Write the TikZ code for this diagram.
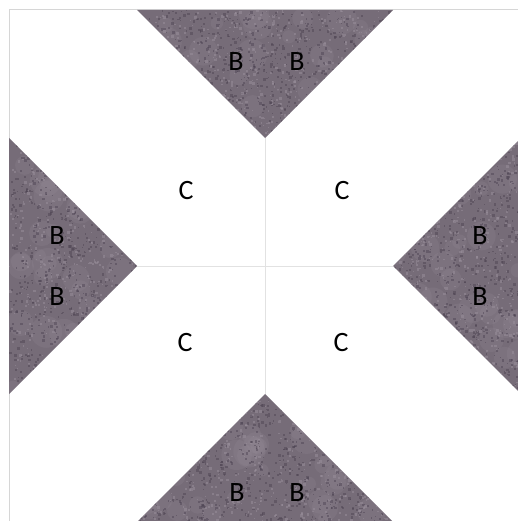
\documentclass[tikz,border=0pt]{standalone}
\usepackage{fontspec}
\setmainfont{Carlito}
\definecolor{fabric}{HTML}{766C78}
\definecolor{fabdark}{HTML}{4A4150}
\definecolor{fablight}{HTML}{9A909C}
\definecolor{seam}{HTML}{E2E2E2}
\definecolor{edge}{HTML}{D6D6D6}
\tikzset{
  lbl/.style={font=\fontsize{28}{30}\selectfont, text=black, inner sep=0pt},
  patch/.style={fill=fabric},
  seamline/.style={draw=seam, line width=0.8pt},
}
\newcommand{\speckle}[4]{% x0 y0 w h
  \foreach \k in {1,...,40}{
    \pgfmathsetmacro{\px}{#1+#3*rnd}
    \pgfmathsetmacro{\py}{#2+#4*rnd}
    \pgfmathsetmacro{\rr}{6+10*rnd}
    \fill[fablight, opacity=0.18] (\px,\py) circle (\rr);
  }%
  \foreach \k in {1,...,1400}{
    \pgfmathsetmacro{\px}{#1+#3*rnd}
    \pgfmathsetmacro{\py}{#2+#4*rnd}
    \pgfmathsetmacro{\sz}{1+1.8*rnd}
    \pgfmathsetmacro{\cc}{rnd}
    \ifdim\cc pt<0.6pt
      \fill[fabdark, opacity=0.45] (\px,\py) rectangle ++(\sz,\sz);
    \else
      \fill[fablight, opacity=0.5] (\px,\py) rectangle ++(\sz,\sz);
    \fi
  }%
}
\begin{document}
\begin{tikzpicture}[x=1pt,y=-1pt]
\pgfmathsetseed{7}
\useasboundingbox (0,0) rectangle (517,521);
\fill[white] (0,0) rectangle (517,521);
% block outline
\draw[edge, line width=1pt] (9,10) rectangle (521,522);
% seams
\draw[seamline] (265,138) -- (265,394);
\draw[seamline] (137,266) -- (393,266);
% triangles
\fill[patch] (137,10) -- (393,10) -- (265,138) -- cycle;
\fill[patch] (9,138) -- (137,266) -- (9,394) -- cycle;
\fill[patch] (521,138) -- (393,266) -- (521,394) -- cycle;
\fill[patch] (137,522) -- (265,394) -- (393,522) -- cycle;
\begin{scope}
  \clip (137,10) -- (393,10) -- (265,138) -- cycle;
  \speckle{137}{10}{256}{128}
\end{scope}
\begin{scope}
  \clip (9,138) -- (137,266) -- (9,394) -- cycle;
  \speckle{9}{138}{128}{256}
\end{scope}
\begin{scope}
  \clip (521,138) -- (393,266) -- (521,394) -- cycle;
  \speckle{393}{138}{128}{256}
\end{scope}
\begin{scope}
  \clip (137,522) -- (265,394) -- (393,522) -- cycle;
  \speckle{137}{394}{256}{128}
\end{scope}
% labels
\node[lbl] (bt1) at (236,62) {B};
\node[lbl] (bt2) at (297,62) {B};
\node[lbl] (bl1) at (57,236) {B};
\node[lbl] (bl2) at (57,297) {B};
\node[lbl] (br1) at (480,236) {B};
\node[lbl] (br2) at (480,297) {B};
\node[lbl] (bb1) at (237,493) {B};
\node[lbl] (bb2) at (297,493) {B};
\node[lbl] (c1) at (186,191) {C};
\node[lbl] (c2) at (342,191) {C};
\node[lbl] (c3) at (185,343) {C};
\node[lbl] (c4) at (341,343) {C};
\end{tikzpicture}
\end{document}
